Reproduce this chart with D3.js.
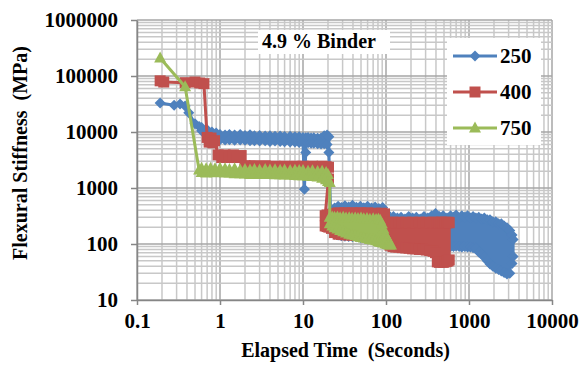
<!DOCTYPE html>
<html>
<head>
<meta charset="utf-8">
<script src="https://cdn.jsdelivr.net/npm/d3@7"></script>
<style>
  body { margin: 0; background: #fff; }
  svg text { font-family: 'Liberation Serif', 'DejaVu Serif', serif; font-weight: bold; fill: #000; }
</style>
</head>
<body>
<svg id="chart" width="581" height="365"></svg>
<script>
// each row: [elapsed seconds, stiffness reading(s) at that time...]
const series250 = [
    [0.19, 33000], [0.28, 30000], [0.33, 31500], [0.38, 29000], [0.42, 22000],
    [0.5, 14000], [0.56, 12500], [0.6, 12000, 10500], [0.7, 11000, 9500],
    [0.8, 10000, 9000], [0.9, 9600, 8200],
    [1, 9000, 7300], [1.15, 8800, 7200], [1.3, 9000, 7300], [1.5, 8800, 7100],
    [1.75, 9000, 7200], [2, 8700, 7100], [2.3, 8900, 7000], [2.6, 8600, 7000],
    [3, 8700, 6900], [3.5, 8500, 7000], [4, 8600, 6800], [4.6, 8400, 6900],
    [5.3, 8500, 6800], [6, 8300, 6700], [7, 8400, 6600], [8, 8200, 6600],
    [9, 8200, 6500], [10, 8000, 6500], [10.4, 950], [10.8, 4300, 7900],
    [11.5, 8000, 6400], [12.5, 7800, 6300], [13.5, 7900, 6300], [15, 7700, 6200],
    [16.5, 7800, 6100], [18, 8600, 6200], [19.5, 8800, 6000], [20.5, 8200, 4300],
    [21.5, 380, 180], [24, 440, 150], [26.5, 470, 145], [29, 450, 140],
    [32, 480, 138], [35.5, 460, 136], [39.5, 490, 135], [44, 455, 135],
    [49, 470, 130], [54, 445, 130], [60, 470, 128], [67, 440, 125],
    [74, 460, 125], [82, 430, 122], [91, 450, 120], [100, 360, 120],
    [111, 290, 118], [123, 310, 118], [137, 290, 115], [152, 300, 115],
    [169, 280, 112], [188, 310, 112], [209, 290, 110], [232, 300, 110],
    [258, 280, 108], [287, 310, 108], [319, 290, 105], [355, 320, 105],
    [395, 350, 100], [439, 310, 100], [488, 320, 95], [543, 290, 92],
    [600, 320, 90], [650, 300, 90], [700, 330, 92], [760, 290, 90],
    [820, 320, 88], [890, 300, 90], [960, 320, 88], [1040, 290, 88],
    [1120, 310, 86], [1210, 290, 84], [1310, 300, 72], [1420, 280, 66],
    [1530, 290, 58], [1660, 270, 50], [1790, 270, 44], [1940, 250, 40],
    [2100, 250, 37], [2270, 230, 35], [2450, 230, 33], [2650, 210, 31],
    [2870, 195, 29], [3100, 175, 30], [3300, 145, 45], [3400, 120, 60],
];

const series400 = [
    [0.19, 82000], [0.21, 78000], [0.38, 76000], [0.5, 78000], [0.57, 75000],
    [0.64, 73000], [0.7, 8000], [0.74, 6600], [0.78, 7800], [0.82, 6400],
    [0.86, 7000], [0.95, 3900], [1.05, 3500], [1.15, 3900], [1.3, 3500],
    [1.45, 3900], [1.6, 3500], [1.8, 3800],
    [2, 2500, 2100], [2.3, 2450, 2100], [2.6, 2500, 2150], [3, 2400, 2100],
    [3.5, 2500, 2100], [4, 2400, 2050], [4.6, 2450, 2100], [5.3, 2400, 2000],
    [6, 2450, 2050], [7, 2400, 2000], [8, 2450, 2000], [9, 2400, 1950],
    [10, 2450, 2000], [11.5, 2400, 1950], [13, 2450, 1900], [15, 2400, 1900],
    [17, 2450, 1800], [19, 2400, 1500], [20.3, 2350, 1450],
    [18.5, 320, 210], [19.5, 330, 205], [20.5, 320, 200], [22, 340, 190],
    [24, 350, 160], [26.5, 360, 150], [29, 355, 148], [32, 360, 146],
    [35.5, 355, 145], [39.5, 360, 144], [44, 355, 142], [49, 360, 140],
    [54, 355, 140], [60, 360, 138], [67, 350, 136], [74, 355, 134],
    [82, 350, 130], [89, 355, 125], [96, 345, 120],
    [104, 245, 110], [112, 238, 95], [121, 245, 90], [131, 238, 88],
    [143, 245, 88], [157, 238, 86], [173, 245, 85], [190, 238, 84],
    [209, 245, 82], [230, 238, 82], [253, 245, 80], [278, 238, 80],
    [306, 245, 78], [337, 238, 76], [370, 245, 74], [395, 238, 70],
    [415, 245, 48], [440, 238, 47], [465, 245, 48], [490, 238, 47],
    [515, 245, 48], [540, 238, 49], [560, 245, 50], [578, 240, 52],
];

const series750 = [
    [0.19, 210000], [0.38, 64000], [0.56, 2100],
    [0.6, 2250, 1900], [0.68, 2200, 1850], [0.77, 2250, 1900], [0.87, 2200, 1880],
    [1, 2250, 1900], [1.15, 2200, 1850], [1.3, 2150, 1850], [1.5, 2200, 1800],
    [1.75, 2100, 1800], [2, 2150, 1780], [2.3, 2100, 1750], [2.6, 2150, 1780],
    [3, 2100, 1750], [3.5, 2150, 1760], [4, 2100, 1740], [4.6, 2120, 1720],
    [5.3, 2080, 1720], [6, 2100, 1700], [7, 2050, 1700], [8, 2080, 1680],
    [9, 2050, 1650], [10, 2050, 1650], [11.5, 2000, 1620], [13, 2030, 1600],
    [15, 1980, 1580], [17, 2000, 1500], [19, 1900, 1400], [20, 1750, 1300],
    [21, 1250, 300, 230], [22.5, 305, 210], [24, 300, 195], [26, 305, 185],
    [28, 295, 175], [30.5, 300, 165], [33, 290, 158], [36, 295, 150],
    [39, 288, 145], [42.5, 292, 140], [46, 285, 135], [50, 290, 130],
    [54, 282, 128], [59, 285, 125], [64, 278, 120], [70, 282, 118],
    [76, 275, 114], [81, 278, 110], [85, 265, 108], [89, 230, 106],
    [93, 185, 104], [98, 150, 100], [104, 125, 98], [110, 108, 96], [115, 96],
];

const seriesNames = ['250', '400', '750'];
const seriesColors = ['#4f81bd', '#c0504d', '#9bbb59'];
const xTickValues = [0.1, 1, 10, 100, 1000, 10000];
const yTickValues = [10, 100, 1000, 10000, 100000, 1000000];
const chartTitle = '4.9 % Binder';
const xTitle = 'Elapsed Time  (Seconds)';
const yTitle = 'Flexural Stiffness  (MPa)';

const FONT = "'Liberation Serif', 'DejaVu Serif', serif";

// marker shapes, like excel's default diamond / square / triangle
const markerPaths = [
    'M0,-5.5L5.5,0L0,5.5L-5.5,0Z',
    'M-5.5,-5.5h11v11h-11Z',
    'M0,-6.5L6,4.5L-6,4.5Z',
];

const svg = d3.select('#chart')
    .attr('font-family', FONT)
    .attr('font-weight', 'bold');
const plot = { left: 137, right: 552, top: 20, bottom: 300 };

const x = d3.scaleLog().domain([0.1, 10000]).range([plot.left, plot.right]);
const y = d3.scaleLog().domain([10, 1000000]).range([plot.bottom, plot.top]);

const isDecade = d => Math.abs(Math.log10(d) - Math.round(Math.log10(d))) < 1e-9;

// gridlines (minor first, then the decade lines on top)
const grid = svg.append('g').attr('class', 'grid');
const xGrid = x.ticks().sort((a, b) => isDecade(a) - isDecade(b));
const yGrid = y.ticks().sort((a, b) => isDecade(a) - isDecade(b));

grid.selectAll('line.gx')
    .data(xGrid)
    .join('line')
    .attr('class', 'gx')
    .attr('x1', d => x(d)).attr('x2', d => x(d))
    .attr('y1', plot.top).attr('y2', plot.bottom)
    .attr('stroke', d => (isDecade(d) ? '#a6a6a6' : '#c8c8c8'))
    .attr('stroke-width', 1.5);

grid.selectAll('line.gy')
    .data(yGrid)
    .join('line')
    .attr('class', 'gy')
    .attr('x1', plot.left).attr('x2', plot.right)
    .attr('y1', d => y(d)).attr('y2', d => y(d))
    .attr('stroke', d => (isDecade(d) ? '#a6a6a6' : '#c8c8c8'))
    .attr('stroke-width', 1.5);

// axes
const styleAxis = (g, size) => {
    g.attr('font-family', FONT).attr('font-size', size);
    g.select('.domain').attr('stroke', '#868686').attr('stroke-width', 1.5);
    g.selectAll('.tick line').attr('stroke', '#868686').attr('stroke-width', 1.5);
    g.selectAll('.tick text').attr('fill', '#000').attr('font-family', FONT);
};

svg.append('g')
    .attr('transform', `translate(0,${plot.bottom})`)
    .call(d3.axisBottom(x).tickValues(xTickValues).tickFormat(d => String(d))
        .tickSize(5).tickSizeOuter(0).tickPadding(8))
    .call(g => styleAxis(g, 21));

svg.append('g')
    .attr('transform', `translate(${plot.left},0)`)
    .call(d3.axisLeft(y).tickValues(yTickValues).tickFormat(d => String(d))
        .tickSize(6).tickSizeOuter(0).tickPadding(13))
    .call(g => styleAxis(g, 21));

// series: lines + markers, blue under red under green
const allSeries = [series250, series400, series750];
const toPoints = rows => rows.flatMap(r => r.slice(1).map(v => [r[0], v]));

const line = d3.line()
    .x(d => x(d[0]))
    .y(d => y(d[1]));

allSeries.forEach((rows, i) => {
    const pts = toPoints(rows);
    const g = svg.append('g').attr('class', `series s${seriesNames[i]}`);
    g.append('path')
        .datum(pts)
        .attr('d', line)
        .attr('fill', 'none')
        .attr('stroke', seriesColors[i])
        .attr('stroke-width', 3)
        .attr('stroke-linejoin', 'round');
    g.selectAll('path.mk')
        .data(pts)
        .join('path')
        .attr('class', 'mk')
        .attr('d', markerPaths[i])
        .attr('transform', d => `translate(${x(d[0])},${y(d[1])})`)
        .attr('fill', seriesColors[i]);
});

// title box
svg.append('rect')
    .attr('x', 258).attr('y', 30)
    .attr('width', 132).attr('height', 24)
    .attr('fill', '#fff');
svg.append('text')
    .attr('x', 262).attr('y', 48)
    .attr('font-size', 20)
    .style('white-space', 'pre')
    .text(chartTitle);

// legend
const legend = svg.append('g').attr('transform', 'translate(447,38)');
legend.append('rect')
    .attr('width', 94).attr('height', 107)
    .attr('fill', '#fff');
seriesNames.forEach((name, i) => {
    const row = legend.append('g').attr('transform', `translate(0,${18 + i * 36})`);
    row.append('line')
        .attr('x1', 6).attr('x2', 50)
        .attr('stroke', seriesColors[i])
        .attr('stroke-width', 3);
    row.append('path')
        .attr('d', markerPaths[i])
        .attr('transform', 'translate(28,0)')
        .attr('fill', seriesColors[i]);
    row.append('text')
        .attr('x', 53).attr('y', 7)
        .attr('font-size', 21)
        .text(name);
});

// axis titles
svg.append('text')
    .attr('x', (plot.left + plot.right) / 2 + 1)
    .attr('y', 357)
    .attr('text-anchor', 'middle')
    .attr('font-size', 20)
    .style('white-space', 'pre')
    .text(xTitle);

svg.append('text')
    .attr('transform', 'translate(27,153) rotate(-90)')
    .attr('text-anchor', 'middle')
    .attr('font-size', 20)
    .style('white-space', 'pre')
    .text(yTitle);
</script>
</body>
</html>
